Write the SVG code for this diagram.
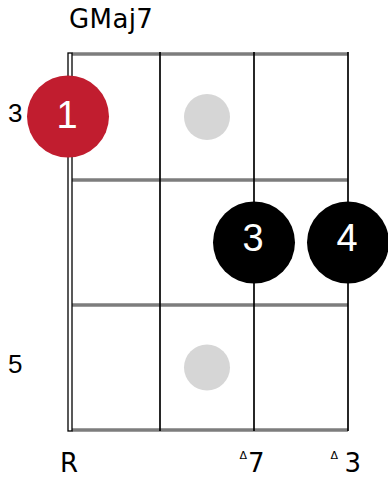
<svg xmlns="http://www.w3.org/2000/svg" width="388" height="481" viewBox="0 0 388 481">
<style>
.fret{stroke:#7d7d7d;stroke-width:3.5;fill:none}
.str{stroke:#000;stroke-width:1.7;fill:none}
.lbl{font-family:"DejaVu Sans",Verdana,sans-serif;font-size:26px;fill:#000}
.fr{font-family:"Liberation Sans",Arial,sans-serif;font-size:26px;fill:#000}
.fing{font-family:"Liberation Sans",Arial,sans-serif;font-size:38px;fill:#fff;text-anchor:middle}
.tri{font-family:"DejaVu Sans",sans-serif;font-size:11px;fill:#000}
</style>
<rect width="388" height="481" fill="#fff"/>
<text id="title" class="lbl" x="69" y="28" letter-spacing="0.4">GMaj7</text>
<g id="connectors">
<line class="fret" x1="72" y1="54" x2="348" y2="54"/>
<line class="fret" x1="72" y1="180" x2="348" y2="180"/>
<line class="fret" x1="72" y1="305" x2="348" y2="305"/>
<line class="fret" x1="72" y1="430" x2="348" y2="430"/>
<line class="str" x1="160" y1="52" x2="160" y2="431"/>
<line class="str" x1="254" y1="52" x2="254" y2="431"/>
<line class="str" x1="348" y1="52" x2="348" y2="431"/>
<rect x="68" y="53" width="4" height="378" fill="#fff" stroke="#000" stroke-width="1.3"/>
</g>
<g id="fret-labels">
<text class="fr" x="8" y="122">3</text>
<text class="fr" x="8" y="373">5</text>
</g>
<g id="dot1"><circle cx="207" cy="117" r="23" fill="#d6d6d6"/></g>
<g id="dot2"><circle cx="207" cy="367.5" r="23" fill="#d6d6d6"/></g>
<g id="finger1"><circle cx="68" cy="116.5" r="41" fill="#c11d2f"/><text class="fing" x="67" y="128">1</text></g>
<g id="finger3"><circle cx="254" cy="242.5" r="41" fill="#000"/><text class="fing" x="253" y="251">3</text></g>
<g id="finger4"><circle cx="348" cy="242.5" r="41" fill="#000"/><text class="fing" x="347" y="251">4</text></g>
<g id="intervals">
<text class="lbl" x="69" y="472" text-anchor="middle">R</text>
<text class="tri" x="239.5" y="459" style="font-size:11px">Δ</text>
<text class="lbl" x="248" y="472">7</text>
<text class="tri" x="330.5" y="459" style="font-size:11px">Δ</text>
<text class="lbl" x="344.5" y="472">3</text>
</g>
</svg>
